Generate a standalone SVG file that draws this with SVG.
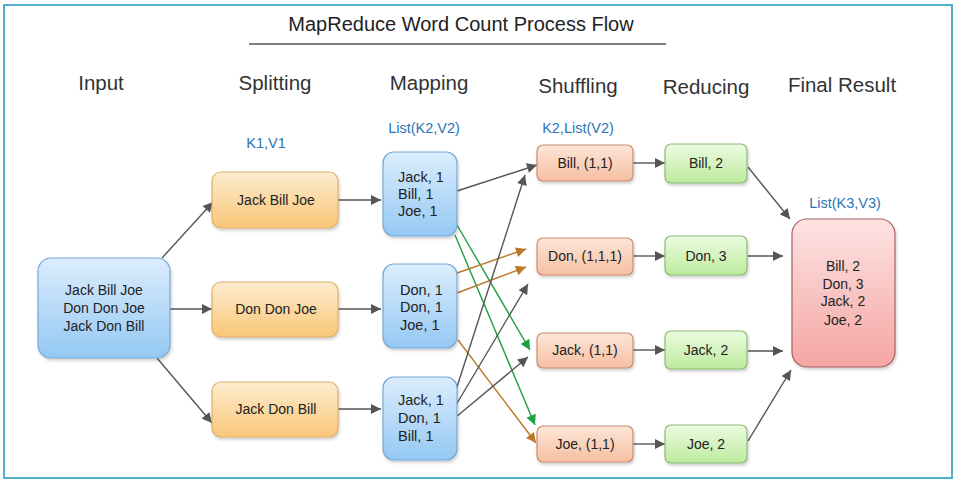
<svg xmlns="http://www.w3.org/2000/svg" width="958" height="485" viewBox="0 0 958 485">
<defs>
<linearGradient id="gBlue" x1="0" y1="0" x2="0" y2="1"><stop offset="0" stop-color="#dcedfd"/><stop offset="1" stop-color="#94c8f3"/></linearGradient>
<linearGradient id="gOrange" x1="0" y1="0" x2="0" y2="1"><stop offset="0" stop-color="#fdecd0"/><stop offset="1" stop-color="#f9c677"/></linearGradient>
<linearGradient id="gPeach" x1="0" y1="0" x2="0" y2="1"><stop offset="0" stop-color="#fde6d8"/><stop offset="1" stop-color="#f6bfa2"/></linearGradient>
<linearGradient id="gGreen" x1="0" y1="0" x2="0" y2="1"><stop offset="0" stop-color="#ecfbe0"/><stop offset="1" stop-color="#bdeb9e"/></linearGradient>
<linearGradient id="gPink" x1="0" y1="0" x2="0" y2="1"><stop offset="0" stop-color="#fde3e3"/><stop offset="1" stop-color="#f4a6a2"/></linearGradient>
<filter id="sh" x="-10%" y="-10%" width="130%" height="130%"><feDropShadow dx="1" dy="2" stdDeviation="1.5" flood-color="#000" flood-opacity="0.2"/></filter>
<marker id="aG" viewBox="0 0 10 10" refX="10" refY="5" markerWidth="11" markerHeight="10" markerUnits="userSpaceOnUse" orient="auto"><path d="M0,0 L10,5 L0,10 z" fill="#555"/></marker>
<marker id="aGr" viewBox="0 0 10 10" refX="10" refY="5" markerWidth="11" markerHeight="10" markerUnits="userSpaceOnUse" orient="auto"><path d="M0,0 L10,5 L0,10 z" fill="#1fa040"/></marker>
<marker id="aO" viewBox="0 0 10 10" refX="10" refY="5" markerWidth="11" markerHeight="10" markerUnits="userSpaceOnUse" orient="auto"><path d="M0,0 L10,5 L0,10 z" fill="#b8792a"/></marker>
</defs>
<style>
text{font-family:"Liberation Sans",Arial,sans-serif;fill:#222}
.hdr{font-size:20.5px;text-anchor:middle;fill:#333}
.lbl{font-size:14.5px;text-anchor:middle;fill:#2a74b8}
.t{font-size:14px;text-anchor:middle}
.tl{font-size:14.5px}
.blue{fill:url(#gBlue);stroke:#78a8d6;stroke-width:1.2;filter:url(#sh)}
.orange{fill:url(#gOrange);stroke:#e0ad6a;stroke-width:1.2;filter:url(#sh)}
.peach{fill:url(#gPeach);stroke:#c98e70;stroke-width:1.2;filter:url(#sh)}
.green{fill:url(#gGreen);stroke:#8cbc72;stroke-width:1.2;filter:url(#sh)}
.pink{fill:url(#gPink);stroke:#a86060;stroke-width:1.2;filter:url(#sh)}
.c{fill:none;stroke:#555;stroke-width:1.4;marker-end:url(#aG)}
.cg{fill:none;stroke:#1fa040;stroke-width:1.4;marker-end:url(#aGr)}
.co{fill:none;stroke:#b8792a;stroke-width:1.4;marker-end:url(#aO)}
</style>
<rect x="0" y="0" width="958" height="485" fill="#fff"/>
<rect x="4" y="5" width="948" height="473" fill="#fff" stroke="#4fb0cc" stroke-width="2"/>
<g id="title">
<text x="461" y="31" font-size="20" text-anchor="middle" fill="#333">MapReduce Word Count Process Flow</text>
<line x1="249" y1="44" x2="666" y2="44" stroke="#555" stroke-width="1.3"/>
</g>
<g id="headers">
<text class="hdr" x="101" y="90">Input</text>
<text class="hdr" x="275" y="90">Splitting</text>
<text class="hdr" x="429" y="90">Mapping</text>
<text class="hdr" x="578" y="93">Shuffling</text>
<text class="hdr" x="706" y="94">Reducing</text>
<text class="hdr" x="842" y="92">Final Result</text>
<text class="lbl" x="266" y="148">K1,V1</text>
<text class="lbl" x="424" y="133">List(K2,V2)</text>
<text class="lbl" x="578" y="133">K2,List(V2)</text>
<text class="lbl" x="845" y="208">List(K3,V3)</text>
</g>
<g id="connectors">
<path class="c" d="M162,258 L213,202"/>
<path class="c" d="M170,309 L212,309"/>
<path class="c" d="M157,358 L212,423"/>
<path class="c" d="M338,200 L381,200"/>
<path class="c" d="M338,309 L381,309"/>
<path class="c" d="M338,409 L381,409"/>
<path class="c" d="M457,191 L537,165"/>
<path class="cg" d="M457,225 L530,350"/>
<path class="cg" d="M455,235 L535,425"/>
<path class="co" d="M457,273 L526,249"/>
<path class="co" d="M457,293 L526,267"/>
<path class="co" d="M458,340 L536,443"/>
<path class="c" d="M456,390 L525,175"/>
<path class="c" d="M456,405 L528,284"/>
<path class="c" d="M456,417 L528,357"/>
<path class="c" d="M633,163 L665,163"/>
<path class="c" d="M633,256 L665,256"/>
<path class="c" d="M633,350 L665,350"/>
<path class="c" d="M633,444 L665,444"/>
<path class="c" d="M748,167 L790,219"/>
<path class="c" d="M748,256 L783,256"/>
<path class="c" d="M748,351 L783,351"/>
<path class="c" d="M748,441 L791,370"/>
</g>
<g id="input">
<rect class="blue" x="38" y="258" width="132" height="100" rx="13"/>
<text class="t" x="104" y="295">Jack Bill Joe</text>
<text class="t" x="104" y="313">Don Don Joe</text>
<text class="t" x="104" y="331">Jack Don Bill</text>
</g>
<g id="split1"><rect class="orange" x="212" y="172" width="126" height="56" rx="9"/><text class="t" x="276" y="205">Jack Bill Joe</text></g>
<g id="split2"><rect class="orange" x="212" y="282" width="126" height="55" rx="9"/><text class="t" x="276" y="314">Don Don Joe</text></g>
<g id="split3"><rect class="orange" x="212" y="382" width="126" height="55" rx="9"/><text class="t" x="276" y="414">Jack Don Bill</text></g>
<g id="map1"><rect class="blue" x="383" y="152" width="74" height="84" rx="11"/>
<text class="tl" x="398" y="182">Jack, 1</text><text class="tl" x="398" y="199">Bill, 1</text><text class="tl" x="398" y="216">Joe, 1</text></g>
<g id="map2"><rect class="blue" x="383" y="264" width="74" height="84" rx="11"/>
<text class="tl" x="400" y="295">Don, 1</text><text class="tl" x="400" y="312">Don, 1</text><text class="tl" x="400" y="330">Joe, 1</text></g>
<g id="map3"><rect class="blue" x="383" y="377" width="74" height="83" rx="11"/>
<text class="tl" x="398" y="405">Jack, 1</text><text class="tl" x="398" y="423">Don, 1</text><text class="tl" x="398" y="441">Bill, 1</text></g>
<g id="shuf1"><rect class="peach" x="537" y="145" width="96" height="36" rx="6"/><text class="t" x="585" y="168">Bill, (1,1)</text></g>
<g id="shuf2"><rect class="peach" x="537" y="238" width="96" height="37" rx="6"/><text class="t" x="585" y="261">Don, (1,1,1)</text></g>
<g id="shuf3"><rect class="peach" x="537" y="333" width="96" height="35" rx="6"/><text class="t" x="585" y="355">Jack, (1,1)</text></g>
<g id="shuf4"><rect class="peach" x="537" y="426" width="96" height="36" rx="6"/><text class="t" x="585" y="449">Joe, (1,1)</text></g>
<g id="red1"><rect class="green" x="665" y="144" width="82" height="39" rx="6"/><text class="t" x="706" y="168">Bill, 2</text></g>
<g id="red2"><rect class="green" x="665" y="236" width="82" height="39" rx="6"/><text class="t" x="706" y="261">Don, 3</text></g>
<g id="red3"><rect class="green" x="665" y="331" width="82" height="38" rx="6"/><text class="t" x="706" y="355">Jack, 2</text></g>
<g id="red4"><rect class="green" x="665" y="425" width="82" height="38" rx="6"/><text class="t" x="706" y="449">Joe, 2</text></g>
<g id="final"><rect class="pink" x="792" y="219" width="103" height="148" rx="15"/>
<text class="t" x="843" y="271">Bill, 2</text><text class="t" x="843" y="289">Don, 3</text><text class="t" x="843" y="306">Jack, 2</text><text class="t" x="843" y="325">Joe, 2</text></g>
</svg>
